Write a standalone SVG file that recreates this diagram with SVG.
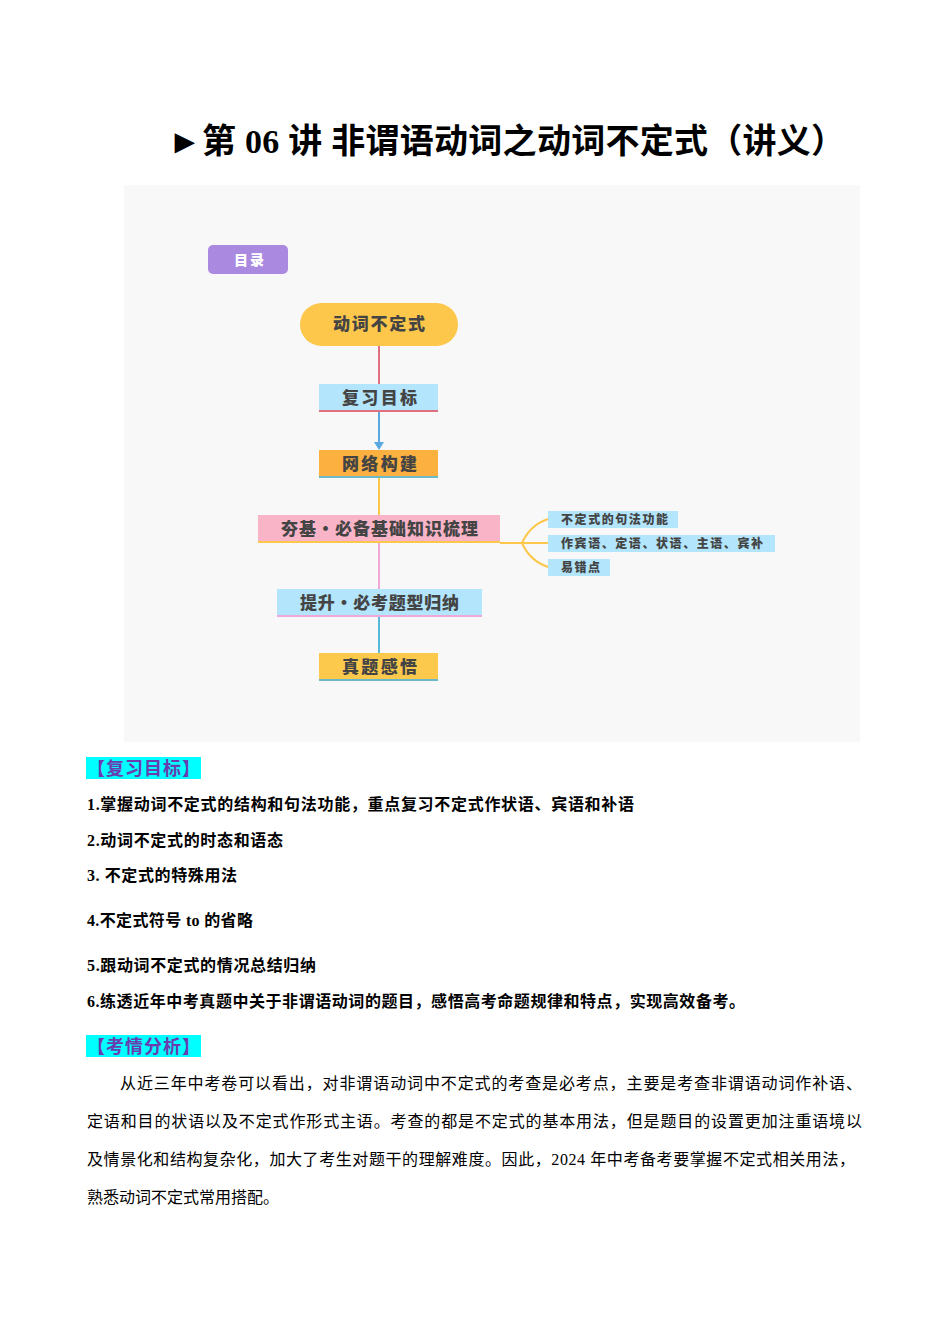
<svg xmlns="http://www.w3.org/2000/svg" width="950" height="1344" viewBox="0 0 950 1344">
<style>
.t{font-family:"Liberation Serif","Noto Sans CJK SC",serif;fill:#000}
.b{font-weight:bold}
.n{font-family:"Noto Sans CJK SC",sans-serif;font-weight:900;fill:#444}
.s{font-family:"Noto Sans CJK SC",sans-serif;font-weight:900;fill:#444;font-size:12px}
.h{font-family:"Liberation Serif","Noto Sans CJK SC",serif;fill:#6a3cb0;font-size:18px;font-weight:bold}
</style>
<rect width="950" height="1344" fill="#fff"/>
<text class="t b" x="168" y="153" font-size="34" textLength="677">►第 06 讲  非谓语动词之动词不定式（讲义）</text>
<rect x="124" y="185" width="736" height="557" fill="#f8f8f8"/>
<g id="connectors" fill="none" stroke-width="2">
<line x1="379" y1="346" x2="379" y2="384" stroke="#e07080"/>
<line x1="379" y1="412" x2="379" y2="444" stroke="#5aa8e0"/>
<path d="M374,442 L379,450 L384,442 Z" fill="#5aa8e0" stroke="none"/>
<line x1="379" y1="478" x2="379" y2="515" stroke="#fcc74a"/>
<line x1="379" y1="543" x2="379" y2="589" stroke="#f0a8d8"/>
<line x1="379" y1="617" x2="379" y2="653" stroke="#5ab8d8"/>
<g stroke="#fcc74a"><path d="M500,543 L522,543"/><path d="M522,543 Q530,525 548,519"/><path d="M522,543 L548,543"/><path d="M522,543 Q530,561 548,567"/></g>
</g>
<g id="n0"><rect x="208" y="245" width="80" height="29" rx="5" fill="#a98ae0"/><text class="n" x="234" y="265" font-size="14" style="fill:#fff" textLength="30">目录</text></g>
<g id="n1"><rect x="300" y="303" width="158" height="43" rx="21.5" fill="#fcc74a"/><text class="n" x="333" y="330" font-size="17" textLength="92">动词不定式</text></g>
<g id="n2"><rect x="319" y="384" width="119" height="28" fill="#b3e5fc"/><rect x="319" y="410" width="119" height="2" fill="#e07080"/><text class="n" x="342" y="404" font-size="17" textLength="75">复习目标</text></g>
<g id="n3"><rect x="319" y="450" width="119" height="28" fill="#fbb040"/><rect x="319" y="476" width="119" height="2" fill="#6ab8c8"/><text class="n" x="342" y="470" font-size="17" textLength="75">网络构建</text></g>
<g id="n4"><rect x="258" y="515" width="242" height="28" fill="#f9b4c8"/><rect x="258" y="541" width="242" height="2" fill="#fcc74a"/><text class="n" x="281" y="535" font-size="17" textLength="197">夯基·必备基础知识梳理</text></g>
<g id="n5"><rect x="277" y="589" width="205" height="28" fill="#b3e5fc"/><rect x="277" y="615" width="205" height="2" fill="#f0a8d8"/><text class="n" x="300" y="609" font-size="17" textLength="159">提升·必考题型归纳</text></g>
<g id="n6"><rect x="319" y="653" width="119" height="28" fill="#fcc94d"/><rect x="319" y="679" width="119" height="2" fill="#6ab8c8"/><text class="n" x="342" y="673" font-size="17" textLength="75">真题感悟</text></g>
<g id="b1"><rect x="548" y="511" width="130" height="17" fill="#b3e5fc"/><text class="s" x="561" y="524" textLength="107">不定式的句法功能</text></g>
<g id="b2"><rect x="548" y="535" width="227" height="17" fill="#b3e5fc"/><text class="s" x="561" y="548" textLength="202">作宾语、定语、状语、主语、宾补</text></g>
<g id="b3"><rect x="548" y="559" width="62" height="17" fill="#b3e5fc"/><text class="s" x="561" y="572" textLength="39">易错点</text></g>
<rect x="86" y="757" width="115" height="22" fill="#00ffff"/>
<text class="h" x="87" y="775" textLength="113">【复习目标】</text>
<g font-size="16">
<text class="t b" x="87" y="810" textLength="547">1.掌握动词不定式的结构和句法功能，重点复习不定式作状语、宾语和补语</text>
<text class="t b" x="87" y="846" textLength="196">2.动词不定式的时态和语态</text>
<text class="t b" x="87" y="881" textLength="150">3. 不定式的特殊用法</text>
<text class="t b" x="87" y="926" textLength="166">4.不定式符号 to 的省略</text>
<text class="t b" x="87" y="971" textLength="229">5.跟动词不定式的情况总结归纳</text>
<text class="t b" x="87" y="1007" textLength="658">6.练透近年中考真题中关于非谓语动词的题目，感悟高考命题规律和特点，实现高效备考。</text>
</g>
<rect x="86" y="1035" width="115" height="22" fill="#00ffff"/>
<text class="h" x="87" y="1053" textLength="113">【考情分析】</text>
<g font-size="16">
<text class="t" x="120" y="1089" textLength="742">从近三年中考卷可以看出，对非谓语动词中不定式的考查是必考点，主要是考查非谓语动词作补语、</text>
<text class="t" x="87" y="1127" textLength="775">定语和目的状语以及不定式作形式主语。考查的都是不定式的基本用法，但是题目的设置更加注重语境以</text>
<text class="t" x="87" y="1165" textLength="768">及情景化和结构复杂化，加大了考生对题干的理解难度。因此，2024 年中考备考要掌握不定式相关用法，</text>
<text class="t" x="87" y="1203" textLength="192">熟悉动词不定式常用搭配。</text>
</g>
</svg>
